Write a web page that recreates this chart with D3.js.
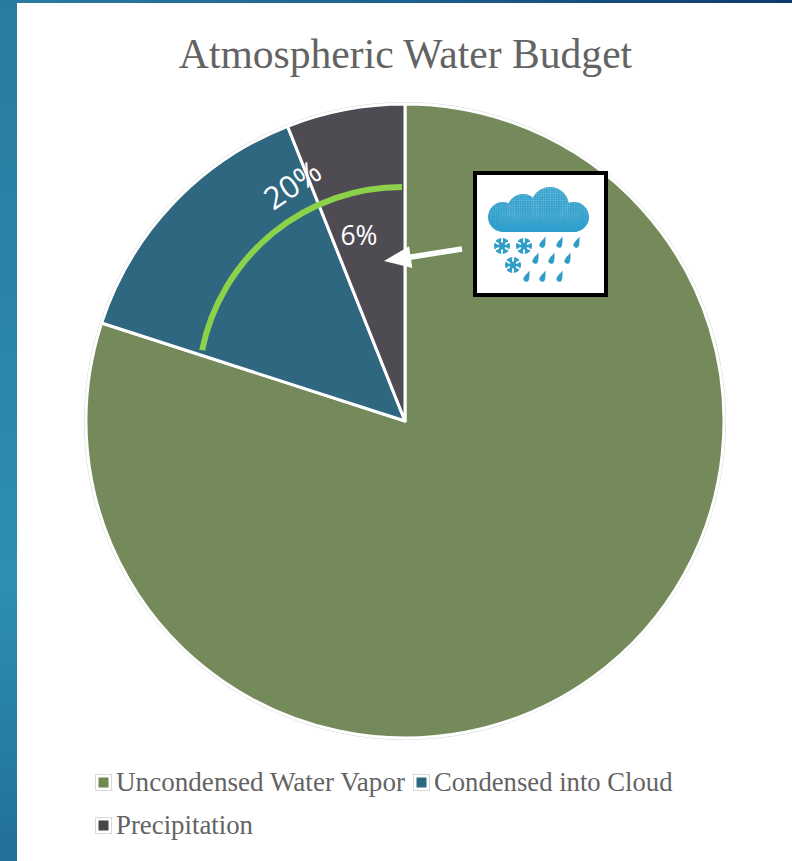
<!DOCTYPE html>
<html><head><meta charset="utf-8">
<script src="https://cdn.jsdelivr.net/npm/d3@7/dist/d3.min.js"></script>
<style>html,body{margin:0;padding:0;background:#fff;overflow:hidden}svg{display:block}</style>
</head><body><svg id="c" width="792" height="861"></svg>
<script>
const chartTitle = "Atmospheric Water Budget";
const categories = ["Uncondensed Water Vapor", "Condensed into Cloud", "Precipitation"];
const values = [80, 14, 6];
const colors = ["#758a5a", "#2e677f", "#4f4b52"];
const swatchColors = ["#6f8a4e", "#2a6a80", "#47474a"];
const annotationLabels = ["20%", "6%"];
const annotationShare = 20;

const svg = d3.select("#c");
const defs = svg.append("defs");
const bandV = defs.append("linearGradient").attr("id","bandV").attr("x1",0).attr("y1",0).attr("x2",0).attr("y2",1);
[[0,"#2a7ba0"],[0.35,"#2b84a8"],[0.68,"#2e8fb0"],[1,"#216f9b"]].forEach(d=>bandV.append("stop").attr("offset",d[0]).attr("stop-color",d[1]));
const bandH = defs.append("linearGradient").attr("id","bandH").attr("x1",0).attr("y1",0).attr("x2",1).attr("y2",0);
[[0,"#2a7ba0"],[0.5,"#1e6190"],[1,"#0f3a70"]].forEach(d=>bandH.append("stop").attr("offset",d[0]).attr("stop-color",d[1]));
const dots = defs.append("pattern").attr("id","dots").attr("width",2.4).attr("height",2.4).attr("patternUnits","userSpaceOnUse");
dots.append("circle").attr("cx",1.2).attr("cy",1.2).attr("r",0.8).attr("fill","#bcdde8");
const fade = defs.append("linearGradient").attr("id","fade").attr("x1",0).attr("y1",0).attr("x2",0).attr("y2",1);
[[0,"#fff",0.75],[0.55,"#fff",0.35],[0.8,"#fff",0]].forEach(d=>fade.append("stop").attr("offset",d[0]).attr("stop-color",d[1]).attr("stop-opacity",d[2]));
const mask = defs.append("mask").attr("id","fadeMask").attr("maskUnits","userSpaceOnUse").attr("x",0).attr("y",0).attr("width",130).attr("height",70);
mask.append("rect").attr("width",130).attr("height",70).attr("fill","url(#fade)");

svg.append("rect").attr("width",792).attr("height",861).attr("fill","#fff");
svg.append("rect").attr("width",17).attr("height",861).attr("fill","url(#bandV)");
svg.append("rect").attr("width",792).attr("height",3).attr("fill","url(#bandH)");

svg.append("text").attr("x",405.5).attr("y",68).attr("text-anchor","middle")
  .attr("font-family","Liberation Serif").attr("font-size",41.6).attr("fill","#636363").text(chartTitle);

// Pie (the source picture is very slightly squashed vertically)
const cx=405, cy=421, R=319, squash=317/319;
const pie = d3.pie().sort(null).value(d=>d);
const arc = d3.arc().innerRadius(0).outerRadius(R);
const g = svg.append("g").attr("transform",`translate(${cx},${cy}) scale(1,${squash})`);
g.append("circle").attr("r",R+1.5).attr("fill","none").attr("stroke","#d5d5d5").attr("stroke-width",1);
g.selectAll("path").data(pie(values)).join("path").attr("d",arc)
  .attr("fill",(d,i)=>colors[i]).attr("stroke","#fff").attr("stroke-width",3).attr("stroke-linejoin","round");

// Green annotation arc, spanning the annotated share of the pie
const angle = d3.scaleLinear().domain([0,100]).range([0,-2*Math.PI]);
svg.append("path").attr("transform","translate(402,391)")
  .attr("d",d3.arc().innerRadius(204).outerRadius(204)({startAngle:0,endAngle:angle(annotationShare)*1.09}))
  .attr("fill","none").attr("stroke","#8bd14a").attr("stroke-width",6);

// Labels
svg.append("text").attr("transform","translate(294,187) rotate(-34)").attr("text-anchor","middle").attr("dominant-baseline","middle")
  .attr("font-family","Open Sans").attr("font-size",31).attr("fill","#fff").text(annotationLabels[0]);
svg.append("text").attr("x",359).attr("y",245).attr("text-anchor","middle")
  .attr("font-family","Open Sans").attr("font-size",26.5).attr("fill","#fff").text(annotationLabels[1]);

// Arrow
svg.append("line").attr("x1",462).attr("y1",249).attr("x2",408).attr("y2",257.5).attr("stroke","#fff").attr("stroke-width",5.5);
svg.append("path").attr("transform","translate(384,261) rotate(-8.5)").attr("d","M0,0L27,-11L27,11Z").attr("fill","#fff");

// Icon
const ic = svg.append("g").attr("transform","translate(475,173)");
ic.append("rect").attr("width",131).attr("height",122).attr("fill","#fff").attr("stroke","#000").attr("stroke-width",4);
const cloudLumps=[[28,44,15],[48,37,16],[75,33,19],[99,44,15]];
const drawCloud = (sel,fill)=>{
  const c=sel.append("g").attr("fill",fill);
  c.selectAll("circle").data(cloudLumps).join("circle").attr("cx",d=>d[0]).attr("cy",d=>d[1]).attr("r",d=>d[2]);
  c.append("rect").attr("x",24).attr("y",40).attr("width",80).attr("height",19).attr("rx",4);
  return c;
};
drawCloud(ic,"#2f9fcd");
drawCloud(ic.append("g").attr("mask","url(#fadeMask)"),"url(#dots)");
const snow=[[27,73,8],[49,73,8],[38,92,8]];
snow.forEach(([x,y,r])=>{
  const s=ic.append("g").attr("transform",`translate(${x},${y})`).attr("stroke","#2f9dc6").attr("stroke-width",2.6).attr("fill","none");
  d3.range(6).forEach(k=>{
    const a=s.append("g").attr("transform",`rotate(${30+k*60})`);
    a.append("line").attr("y2",-r);
    a.append("path").attr("d",`M-2.6,${-r+0.5}L0,${-r+3.5}L2.6,${-r+0.5}`).attr("stroke-width",1.8);
  });
  s.append("circle").attr("r",3).attr("fill","#2f9dc6").attr("stroke","none");
});
const drops=[[68,70],[85,70],[102,70],[61,86],[77,86],[93,86],[52,104],[68,104],[85,104]];
ic.selectAll("path.drop").data(drops).join("path").attr("class","drop")
  .attr("transform",d=>`translate(${d[0]},${d[1]}) rotate(22)`)
  .attr("d","M0,-7C1.2,-3 2.8,-0.5 2.8,2A2.8,2.8 0 1 1 -2.8,2C-2.8,-0.5 -1.2,-3 0,-7Z").attr("fill","#2f9dc6");

// Legend
const legend=[[95,791,0,289],[413,791,1,238.5],[95,834,2,137]];
legend.forEach(([x,y,i,w])=>{
  svg.append("rect").attr("x",x+0.5).attr("y",y-16.5).attr("width",16).attr("height",16).attr("fill","#fff").attr("stroke","#d9d9d9");
  svg.append("rect").attr("x",x+3.5).attr("y",y-13.5).attr("width",10).attr("height",10).attr("fill",swatchColors[i]);
  svg.append("text").attr("x",x+21).attr("y",y).attr("font-family","Liberation Serif").attr("font-size",27)
    .attr("textLength",w).attr("lengthAdjust","spacingAndGlyphs").attr("fill","#636363").text(categories[i]);
});
</script></body></html>
